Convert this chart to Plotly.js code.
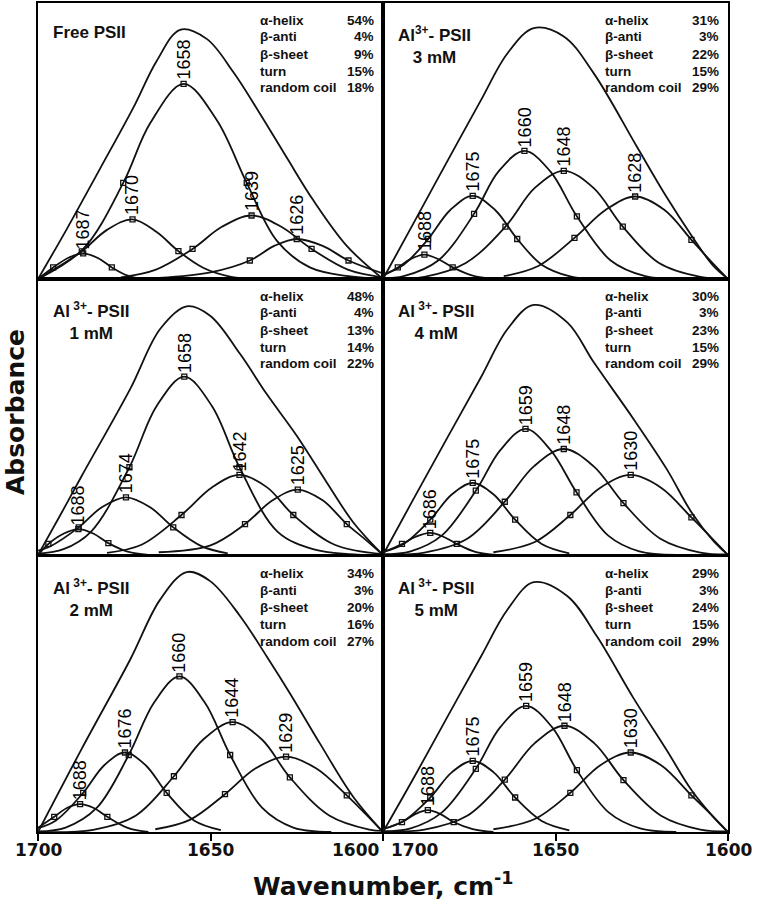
<!DOCTYPE html>
<html>
<head>
<meta charset="utf-8">
<script src="https://cdn.plot.ly/plotly-3.0.1.min.js"></script>
<style>
    html, body { margin: 0; padding: 0; background: #fff; }
    #chart { width: 760px; height: 900px; }
</style>
</head>
<body>
<div id="chart"></div>
<script>
// panel order: Free, 3 mM (row 1), 1 mM, 4 mM (row 2), 2 mM, 5 mM (row 3)
const panelTitles = ['Free PSII', 'Al<sup>3+</sup>- PSII<br>3 mM', 'Al<sup> 3+</sup>- PSII<br>1 mM',
    'Al<sup> 3+</sup>- PSII<br>4 mM', 'Al<sup> 3+</sup>- PSII<br>2 mM', 'Al<sup> 3+</sup>- PSII<br>5 mM'];
const structureNames = ['α-helix', 'β-anti', 'β-sheet', 'turn', 'random coil'];
const structurePct = [
    [54, 4, 9, 15, 18],
    [31, 3, 22, 15, 29],
    [48, 4, 13, 14, 22],
    [30, 3, 23, 15, 29],
    [34, 3, 20, 16, 27],
    [29, 3, 24, 15, 29],
];
const peakLabels = [
    [1687, 1670, 1658, 1639, 1626],
    [1688, 1675, 1660, 1648, 1628],
    [1688, 1674, 1658, 1642, 1625],
    [1686, 1675, 1659, 1648, 1630],
    [1688, 1676, 1660, 1644, 1629],
    [1688, 1675, 1659, 1648, 1630],
];
const tickVals = [1700, 1650, 1600];

// Free PSII
const envWnFree = [1700, 1691.7, 1682.0, 1672.4, 1665.6, 1658.8, 1651.1, 1643.4, 1635.7, 1627.9, 1620.2, 1610.5, 1600];
const envAbsFree = [0, 0.18, 0.40, 0.62, 0.79, 0.903, 0.87, 0.75, 0.60, 0.44, 0.285, 0.12, 0];
const bandWnFree = [
    [1700, 1695.6, 1691, 1686.9, 1682.5, 1678.6, 1674, 1670],
    [1700, 1694, 1687.3, 1680, 1672.6, 1665.6, 1659.3, 1652, 1644, 1636],
    [1700, 1686.9, 1675.3, 1667.5, 1657.8, 1648.2, 1639.5, 1630.8, 1621.2, 1610, 1600],
    [1676, 1666, 1655.2, 1646.6, 1638.1, 1629.6, 1620.7, 1610, 1600],
    [1665, 1650, 1638.6, 1631.5, 1625.0, 1617.5, 1610.0, 1600],
];
const bandAbsFree = [
    [0, 0.042, 0.078, 0.093, 0.075, 0.042, 0.012, 0],
    [0, 0.045, 0.10, 0.178, 0.216, 0.17, 0.101, 0.04, 0.008, 0],
    [0, 0.109, 0.348, 0.564, 0.707, 0.576, 0.348, 0.139, 0.042, 0.01, 0],
    [0.006, 0.033, 0.109, 0.19, 0.23, 0.19, 0.109, 0.033, 0.006],
    [0.004, 0.024, 0.067, 0.12, 0.145, 0.12, 0.067, 0.02],
];
const markWnFree = [1695.6, 1686.9, 1678.6, 1687.3, 1672.6, 1659.3, 1675.3, 1657.8, 1639.5, 1655.2, 1638.1, 1620.7, 1638.6, 1625.0, 1610.0];
const markAbsFree = [0.042, 0.093, 0.042, 0.10, 0.216, 0.101, 0.348, 0.707, 0.348, 0.109, 0.230, 0.109, 0.067, 0.145, 0.067];

// Al3+ 3 mM
const envWnAl3 = [1700, 1690.9, 1681.3, 1671.6, 1663.9, 1656.3, 1647.6, 1638.9, 1626.4, 1617.8, 1610.6, 1604.3, 1600];
const envAbsAl3 = [0, 0.208, 0.428, 0.648, 0.818, 0.909, 0.879, 0.745, 0.479, 0.297, 0.158, 0.048, 0];
const bandWnAl3 = [
    [1700, 1695.7, 1692, 1688.0, 1684, 1679.8, 1674, 1668],
    [1700, 1694, 1686.9, 1680.5, 1674.0, 1667.5, 1661.1, 1654, 1646, 1640],
    [1700, 1694, 1684, 1673.6, 1666.5, 1659.0, 1651.5, 1643.8, 1634, 1624, 1615],
    [1700, 1688, 1676, 1664.5, 1656, 1647.6, 1639, 1630.5, 1620, 1608, 1600],
    [1665, 1655, 1644.5, 1635.5, 1626.9, 1618.4, 1610.6, 1605, 1600],
];
const bandAbsAl3 = [
    [0.012, 0.042, 0.072, 0.088, 0.072, 0.042, 0.012, 0],
    [0.016, 0.052, 0.145, 0.25, 0.301, 0.25, 0.145, 0.052, 0.01, 0],
    [0.002, 0.01, 0.067, 0.236, 0.39, 0.464, 0.39, 0.227, 0.067, 0.01, 0],
    [0, 0.008, 0.058, 0.19, 0.33, 0.392, 0.33, 0.19, 0.058, 0.008, 0.002],
    [0.01, 0.047, 0.149, 0.25, 0.299, 0.25, 0.142, 0.065, 0],
];
const markWnAl3 = [1695.7, 1688.0, 1679.8, 1686.9, 1674.0, 1661.1, 1673.6, 1659.0, 1643.8, 1664.5, 1647.6, 1630.5, 1644.5, 1626.9, 1610.6];
const markAbsAl3 = [0.042, 0.088, 0.042, 0.145, 0.301, 0.145, 0.236, 0.464, 0.227, 0.19, 0.392, 0.19, 0.149, 0.299, 0.142];

// Al3+ 1 mM
const envWnAl1 = [1700, 1693.6, 1687.3, 1673.3, 1664.6, 1656.9, 1650.1, 1641.4, 1633.7, 1625.0, 1616.3, 1608.6, 1600];
const envAbsAl1 = [0, 0.143, 0.287, 0.601, 0.819, 0.901, 0.867, 0.728, 0.583, 0.432, 0.263, 0.118, 0];
const bandWnAl1 = [
    [1700, 1697, 1692.5, 1688.3, 1684, 1679.6, 1674, 1668],
    [1700, 1696.5, 1688.2, 1681.5, 1674.5, 1667.5, 1660.8, 1652.5, 1645],
    [1700, 1692.6, 1684.6, 1673.5, 1665.6, 1657.6, 1649.6, 1641.6, 1630.6, 1620, 1610, 1600],
    [1680, 1670, 1658.4, 1649.6, 1641.6, 1633.6, 1626.0, 1614, 1600],
    [1665, 1650, 1640, 1632, 1624.7, 1617.5, 1610.5, 1605, 1600],
];
const bandAbsAl1 = [
    [0, 0.040, 0.078, 0.094, 0.078, 0.043, 0.012, 0],
    [0.016, 0.031, 0.1, 0.173, 0.209, 0.173, 0.1, 0.031, 0.006],
    [0.005, 0.021, 0.085, 0.318, 0.54, 0.646, 0.54, 0.318, 0.085, 0.02, 0.003, 0],
    [0.008, 0.037, 0.145, 0.245, 0.29, 0.245, 0.145, 0.037, 0.003],
    [0.01, 0.035, 0.112, 0.198, 0.237, 0.198, 0.112, 0.055, 0],
];
const markWnAl1 = [1697, 1688.3, 1679.6, 1688.2, 1674.5, 1660.8, 1673.5, 1657.6, 1641.6, 1658.4, 1641.6, 1626.0, 1640.0, 1624.7, 1610.5];
const markAbsAl1 = [0.04, 0.094, 0.043, 0.1, 0.209, 0.1, 0.318, 0.646, 0.318, 0.145, 0.29, 0.145, 0.112, 0.237, 0.112];

// Al3+ 4 mM
const envWnAl4 = [1700, 1690.9, 1681.3, 1671.6, 1663.9, 1656.3, 1646.6, 1638.9, 1627.4, 1617.8, 1610.6, 1604.3, 1600];
const envAbsAl4 = [0, 0.209, 0.426, 0.644, 0.819, 0.906, 0.843, 0.698, 0.493, 0.312, 0.155, 0.052, 0];
const bandWnAl4 = [
    [1700, 1694.5, 1690.5, 1686.3, 1682.5, 1678.6, 1673, 1667],
    [1700, 1694, 1686.3, 1680, 1674.0, 1668, 1661.7, 1654, 1646],
    [1700, 1692, 1683, 1673.1, 1666, 1658.7, 1651.4, 1643.9, 1634.7, 1625.7, 1615],
    [1700, 1688, 1675.6, 1664.7, 1656.2, 1647.6, 1639, 1630.3, 1619.6, 1608, 1600],
    [1668, 1656, 1645.7, 1637, 1628.2, 1619.4, 1610.6, 1605, 1600],
];
const bandAbsAl4 = [
    [0.01, 0.04, 0.066, 0.08, 0.066, 0.04, 0.01, 0],
    [0.011, 0.04, 0.128, 0.22, 0.261, 0.22, 0.128, 0.04, 0.006],
    [0.002, 0.013, 0.07, 0.233, 0.38, 0.457, 0.38, 0.227, 0.07, 0.013, 0],
    [0.002, 0.009, 0.059, 0.193, 0.322, 0.384, 0.322, 0.188, 0.059, 0.009, 0.002],
    [0.01, 0.047, 0.145, 0.244, 0.29, 0.244, 0.136, 0.065, 0],
];
const markWnAl4 = [1694.5, 1686.3, 1678.6, 1686.3, 1674.0, 1661.7, 1673.1, 1658.7, 1643.9, 1664.7, 1647.6, 1630.3, 1645.7, 1628.2, 1610.6];
const markAbsAl4 = [0.04, 0.08, 0.04, 0.128, 0.261, 0.128, 0.233, 0.457, 0.227, 0.193, 0.384, 0.188, 0.145, 0.29, 0.136];

// Al3+ 2 mM
const envWnAl2 = [1700, 1687.3, 1673.3, 1664.6, 1656.9, 1650.1, 1641.4, 1633.7, 1627.0, 1618.3, 1608.6, 1600];
const envAbsAl2 = [0, 0.302, 0.624, 0.842, 0.942, 0.909, 0.782, 0.636, 0.503, 0.321, 0.127, 0];
const bandWnAl2 = [
    [1700, 1695.3, 1691.5, 1687.8, 1684, 1679.9, 1674, 1668],
    [1700, 1694.8, 1686.9, 1680.8, 1674.8, 1668.8, 1662.7, 1654.8, 1647],
    [1700, 1692, 1683, 1673.7, 1666.3, 1659, 1651.7, 1644.3, 1635, 1626, 1615],
    [1700, 1684, 1671.6, 1660.6, 1652.1, 1643.6, 1635.1, 1627, 1615.6, 1604, 1600],
    [1666, 1656, 1645.8, 1637, 1628.1, 1619.3, 1610.5, 1605, 1600],
];
const bandAbsAl2 = [
    [0.015, 0.055, 0.088, 0.101, 0.088, 0.055, 0.015, 0],
    [0.014, 0.042, 0.142, 0.242, 0.288, 0.242, 0.142, 0.042, 0.007],
    [0.002, 0.016, 0.087, 0.279, 0.47, 0.564, 0.47, 0.279, 0.087, 0.016, 0],
    [0, 0.008, 0.06, 0.202, 0.335, 0.398, 0.335, 0.198, 0.06, 0.009, 0.004],
    [0.01, 0.044, 0.137, 0.23, 0.273, 0.23, 0.133, 0.065, 0],
];
const markWnAl2 = [1695.3, 1687.8, 1679.9, 1686.9, 1674.8, 1662.7, 1673.7, 1659.0, 1644.3, 1660.6, 1643.6, 1627.0, 1645.8, 1628.1, 1610.5];
const markAbsAl2 = [0.055, 0.101, 0.055, 0.142, 0.288, 0.142, 0.279, 0.564, 0.279, 0.202, 0.398, 0.198, 0.137, 0.273, 0.133];

// Al3+ 5 mM
const envWnAl5 = [1700, 1690.9, 1681.3, 1671.6, 1663.9, 1656.3, 1646.6, 1638.0, 1627.4, 1617.8, 1610.6, 1604.3, 1600];
const envAbsAl5 = [0, 0.2, 0.418, 0.636, 0.806, 0.905, 0.855, 0.709, 0.485, 0.297, 0.152, 0.055, 0];
const bandWnAl5 = [
    [1700, 1694.5, 1690.8, 1687, 1683.2, 1679.5, 1674, 1668],
    [1700, 1694, 1686.3, 1680, 1674, 1668, 1661.7, 1654, 1646],
    [1700, 1692, 1683, 1673.1, 1666, 1658.5, 1651, 1643.8, 1634.5, 1625.5, 1615],
    [1700, 1688, 1675.6, 1664.7, 1656, 1647.4, 1638.8, 1630.3, 1619.4, 1608, 1600],
    [1668, 1656, 1645.7, 1637, 1628.2, 1619.4, 1610.6, 1605, 1600],
];
const bandAbsAl5 = [
    [0.01, 0.036, 0.064, 0.079, 0.064, 0.036, 0.01, 0],
    [0.011, 0.04, 0.125, 0.217, 0.258, 0.217, 0.125, 0.04, 0.006],
    [0.002, 0.013, 0.07, 0.229, 0.38, 0.457, 0.38, 0.224, 0.07, 0.013, 0],
    [0.002, 0.009, 0.059, 0.19, 0.322, 0.385, 0.322, 0.188, 0.059, 0.009, 0.002],
    [0.01, 0.047, 0.142, 0.242, 0.288, 0.242, 0.133, 0.065, 0],
];
const markWnAl5 = [1694.5, 1687.0, 1679.5, 1686.3, 1674.0, 1661.7, 1673.1, 1658.5, 1643.8, 1664.7, 1647.4, 1630.3, 1645.7, 1628.2, 1610.6];
const markAbsAl5 = [0.036, 0.079, 0.036, 0.125, 0.258, 0.125, 0.229, 0.457, 0.224, 0.19, 0.385, 0.188, 0.142, 0.288, 0.133];

const panels = [
    { envWn: envWnFree, envAbs: envAbsFree, bandWn: bandWnFree, bandAbs: bandAbsFree, markWn: markWnFree, markAbs: markAbsFree },
    { envWn: envWnAl3, envAbs: envAbsAl3, bandWn: bandWnAl3, bandAbs: bandAbsAl3, markWn: markWnAl3, markAbs: markAbsAl3 },
    { envWn: envWnAl1, envAbs: envAbsAl1, bandWn: bandWnAl1, bandAbs: bandAbsAl1, markWn: markWnAl1, markAbs: markAbsAl1 },
    { envWn: envWnAl4, envAbs: envAbsAl4, bandWn: bandWnAl4, bandAbs: bandAbsAl4, markWn: markWnAl4, markAbs: markAbsAl4 },
    { envWn: envWnAl2, envAbs: envAbsAl2, bandWn: bandWnAl2, bandAbs: bandAbsAl2, markWn: markWnAl2, markAbs: markAbsAl2 },
    { envWn: envWnAl5, envAbs: envAbsAl5, bandWn: bandWnAl5, bandAbs: bandAbsAl5, markWn: markWnAl5, markAbs: markAbsAl5 },
];

const W = 760;
const H = 900;
const COL_LEFT = [38, 383];
const COL_WIDTH = 345;
const ROW_TOP = [3, 279, 556];
const ROW_HEIGHT = 276;
const TABLE_ROW_OFFSET = [17, 34, 51, 68, 85];

const ARIAL = "'Liberation Sans', Arial, sans-serif";
const WIDE = "'DejaVu Sans', Verdana, sans-serif";

const traces = [];
const layout = {
    width: W,
    height: H,
    margin: { l: 0, r: 0, t: 0, b: 0 },
    paper_bgcolor: '#fff',
    plot_bgcolor: '#fff',
    showlegend: false,
    annotations: [],
};

const lineStyle = { color: '#111', width: 1.8, shape: 'spline', smoothing: 1 };

panels.forEach((panel, index) => {
    const n = index + 1;
    const suffix = n === 1 ? '' : String(n);
    const xName = 'x' + suffix;
    const yName = 'y' + suffix;
    const col = index % 2;
    const row = Math.floor(index / 2);
    const left = COL_LEFT[col];
    const right = left + COL_WIDTH;
    const top = ROW_TOP[row];
    const bottom = top + ROW_HEIGHT;
    const isBottom = row === 2;

    layout['xaxis' + suffix] = {
        domain: [left / W, right / W],
        range: [1700, 1600],
        anchor: yName,
        showline: true,
        mirror: true,
        linewidth: 2,
        linecolor: '#000',
        showgrid: false,
        zeroline: false,
        showticklabels: false,
        tickvals: tickVals,
        ticks: isBottom ? 'outside' : '',
        ticklen: 7,
        tickwidth: 2,
        tickcolor: '#000',
    };
    layout['yaxis' + suffix] = {
        domain: [1 - bottom / H, 1 - top / H],
        range: [0, 1],
        anchor: xName,
        showline: true,
        mirror: true,
        linewidth: 2,
        linecolor: '#000',
        showgrid: false,
        zeroline: false,
        showticklabels: false,
        ticks: '',
    };

    traces.push({
        x: panel.envWn, y: panel.envAbs, xaxis: xName, yaxis: yName,
        type: 'scatter', mode: 'lines', line: lineStyle, hoverinfo: 'skip',
    });

    panel.bandWn.forEach((wn, b) => {
        const abs = panel.bandAbs[b];
        traces.push({
            x: wn, y: abs, xaxis: xName, yaxis: yName,
            type: 'scatter', mode: 'lines', line: lineStyle, hoverinfo: 'skip',
        });

        const peakIndex = abs.indexOf(Math.max(...abs));
        layout.annotations.push({
            xref: xName, yref: yName,
            x: wn[peakIndex], y: abs[peakIndex],
            text: String(peakLabels[index][b]),
            textangle: -90,
            xanchor: 'center', yanchor: 'bottom',
            yshift: 2,
            showarrow: false,
            font: { family: ARIAL, size: 18, color: '#000' },
        });
    });

    traces.push({
        x: panel.markWn, y: panel.markAbs, xaxis: xName, yaxis: yName,
        type: 'scatter', mode: 'markers', hoverinfo: 'skip', cliponaxis: false,
        marker: { symbol: 'square-open', size: 5, color: '#111', line: { width: 1.3, color: '#111' } },
    });

    // sample name
    layout.annotations.push({
        xref: 'paper', yref: 'paper',
        x: (left + 13) / W,
        y: 1 - (top + (index === 0 ? 29 : 42)) / H,
        xanchor: 'left', yanchor: 'middle', align: 'center',
        text: panelTitles[index],
        showarrow: false,
        font: { family: ARIAL, size: 17, weight: 'bold', color: '#111' },
    });

    // secondary structure table
    structureNames.forEach((name, r) => {
        const y = 1 - (top + TABLE_ROW_OFFSET[r]) / H;
        layout.annotations.push({
            xref: 'paper', yref: 'paper', x: (right - 125) / W, y,
            xanchor: 'left', yanchor: 'middle', text: name, showarrow: false,
            font: { family: ARIAL, size: 13.5, weight: 'bold', color: '#111' },
        });
        layout.annotations.push({
            xref: 'paper', yref: 'paper', x: (right - 7) / W, y,
            xanchor: 'right', yanchor: 'middle', text: structurePct[index][r] + '%', showarrow: false,
            font: { family: ARIAL, size: 13.5, weight: 'bold', color: '#111' },
        });
    });

    if (isBottom) {
        tickVals.forEach((value, t) => {
            let xanchor = 'center';
            let xshift = 0;
            if (col === 0 && t === 2) { xanchor = 'right'; xshift = -2; }
            if (col === 1 && t === 0) { xanchor = 'left'; xshift = 6; }
            layout.annotations.push({
                xref: xName, yref: 'paper', x: value, y: 1 - 838 / H,
                xanchor, yanchor: 'top', xshift,
                text: String(value), showarrow: false,
                font: { family: WIDE, size: 17, weight: 'bold', color: '#111' },
            });
        });
    }
});

layout.annotations.push({
    xref: 'paper', yref: 'paper', x: 15 / W, y: 1 - 412 / H,
    xanchor: 'center', yanchor: 'middle', textangle: -90,
    text: 'Absorbance', showarrow: false,
    font: { family: WIDE, size: 25, weight: 'bold', color: '#111' },
});
layout.annotations.push({
    xref: 'paper', yref: 'paper', x: 383 / W, y: 1 - 884 / H,
    xanchor: 'center', yanchor: 'middle',
    text: 'Wavenumber, cm<sup>-1</sup>', showarrow: false,
    font: { family: WIDE, size: 25, weight: 'bold', color: '#111' },
});

Plotly.newPlot('chart', traces, layout, { displayModeBar: false, staticPlot: true });
</script>
</body>
</html>
